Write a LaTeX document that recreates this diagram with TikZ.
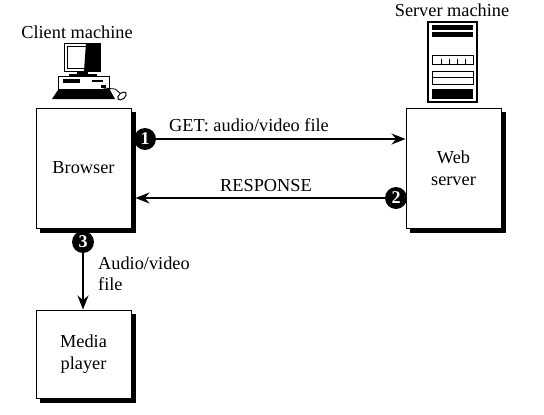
\documentclass[tikz,border=0pt]{standalone}
\usepackage{fontspec}
\setmainfont{Liberation Serif}
\usepackage{xcolor}
\usetikzlibrary{arrows.meta,positioning,calc,backgrounds}

\begin{document}
\begin{tikzpicture}[
  x=1pt, y=-1pt,
  box/.style={rectangle, draw, line width=1pt, fill=white, minimum width=95pt, align=center, font=\fontsize{18.3}{21.5}\selectfont},
  lbl/.style={font=\fontsize{18.3}{21.5}\selectfont, inner sep=0pt, align=left},
  badge/.style={circle, fill=black, text=white, minimum size=22pt, inner sep=0pt, font=\fontsize{18}{18}\selectfont\bfseries},
  arr/.style={-{Stealth[length=14pt,width=11pt]}, line width=1.1pt}
]
\useasboundingbox (0,0) rectangle (544,415);

% boxes
\node[box, minimum height=120pt] (browser) at (83.5,168) {Browser};
\node[box, minimum height=120pt] (web) at (453.5,168) {Web\\server};
\node[box, minimum height=88pt, below=81pt of browser] (media) {Media\\player};

% box shadows
\begin{scope}[on background layer]
\foreach \b in {browser,web,media}
  \fill[black] ($(\b.north west)+(4,4)$) rectangle ($(\b.south east)+(4,4)$);
\end{scope}

% machine titles
\node[lbl] (client_lbl) at (77,32) {Client machine};
\node[lbl] (server_lbl) at (452,10) {Server machine};

% client computer
\draw[line width=1pt, fill=white] (64,43) rectangle (100,71);
\fill[black] (88,43) rectangle (100,71);
\fill[black] (86,43) -- (88,43) -- (88,71) -- (84,71) -- cycle;
\draw[line width=.8pt] (67,46) rectangle (88,68);
\fill[black] (77,71) rectangle (88,74);
\fill[black] (69,74) rectangle (97,76);
\draw[line width=1pt, fill=white] (58,76) rectangle (109,89);
\fill[black] (63,79) rectangle (80,83);
\fill[black] (92,80) rectangle (103,82);
\fill[black] (101,85) rectangle (106,88);
\fill[black] (58,90) -- (110,90) -- (115,99) -- (52,99) -- cycle;
\draw[line width=.8pt] (103,88) -- (115,89) -- (120,93);
\draw[line width=1pt, fill=white, rotate around={40:(122,96)}] (122,96) ellipse (5pt and 3pt);

% server tower
\draw[line width=1.3pt, fill=white] (428,22) rectangle (477,102);
\fill[black] (432,25) rectangle (473,30);
\fill[black] (432,32) rectangle (473,37);
\draw[line width=1pt] (432,55) rectangle (473,64);
\foreach \x in {441,449,457,465}
  \draw[line width=1pt] (\x,59) -- (\x,64);
\draw[line width=1pt] (432,71) rectangle (473,77);
\draw[line width=1pt] (432,77) rectangle (473,84);
\fill[black] (432,89) rectangle (473,99);

% messages
\node[lbl] (get_lbl) at (249,125) {GET: audio/video file};
\node[lbl] (resp_lbl) at (266,186) {RESPONSE};
\node[lbl, anchor=west] (file_lbl) at (98,273.5) {Audio/video\\file};

% numbered markers
\node[badge] (one) at (145,139) {1};
\node[badge] (two) at (396,198) {2};
\node[badge] (three) at (83,242) {3};

\draw[arr] (one) -- (web.west |- one);
\draw[arr] (two) -- ($(browser.east |- two)+(4,0)$);
\draw[arr] (three) -- (media.north -| three);

\end{tikzpicture}
\end{document}
